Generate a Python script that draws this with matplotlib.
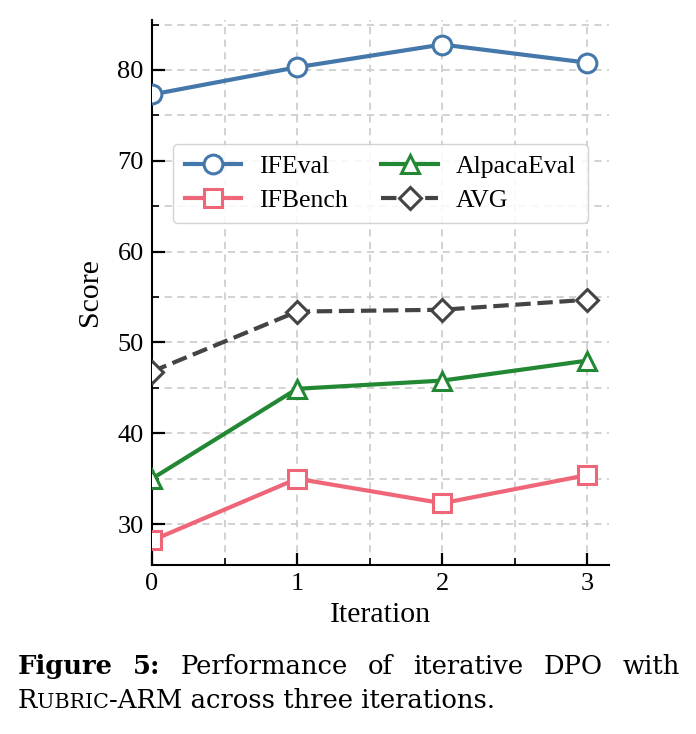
import matplotlib
matplotlib.use("Agg")
import matplotlib.pyplot as plt
from matplotlib.ticker import MultipleLocator

iterations = [0, 1, 2, 3]
ifeval = [77.3, 80.3, 82.8, 80.8]
ifbench = [28.2, 35.0, 32.3, 35.4]
alpacaeval = [35.0, 44.9, 45.8, 48.0]
avg = [46.8, 53.4, 53.6, 54.7]
series_names = ["IFEval", "IFBench", "AlpacaEval", "AVG"]

plt.rcParams['font.family'] = ['Liberation Serif', 'DejaVu Serif']
plt.rcParams['mathtext.fontset'] = 'stix'

fig = plt.figure(figsize=(6.96, 7.34), dpi=100)
W, H = 696, 734
ax = fig.add_axes([152 / W, 1 - 565 / H, (609 - 152) / W, (565 - 20) / H])

lw = 3.0
ms = 13.5
mew = 2.2
ax.plot(iterations, ifeval, color='#4477AA', lw=lw, marker='o', ms=ms,
        mfc='white', mew=mew, label=series_names[0], zorder=3)
ax.plot(iterations, ifbench, color='#EE6677', lw=lw, marker='s', ms=ms - 1.0,
        mfc='white', mew=mew, label=series_names[1], zorder=3)
ax.plot(iterations, alpacaeval, color='#228833', lw=lw, marker='^', ms=ms,
        mfc='white', mew=mew, label=series_names[2], zorder=3)
ax.plot(iterations, avg, color='#444444', lw=lw, ls='--', marker='D', ms=ms - 2.0,
        mfc='white', mew=mew, label=series_names[3], zorder=3)

ax.set_xlim(0, 3.15)
ax.set_ylim(25.5, 85.5)
ax.xaxis.set_major_locator(MultipleLocator(1))
ax.xaxis.set_minor_locator(MultipleLocator(0.5))
ax.yaxis.set_major_locator(MultipleLocator(10))
ax.yaxis.set_minor_locator(MultipleLocator(5))
ax.set_yticks([30, 40, 50, 60, 70, 80])

ax.grid(True, which='both', ls=(0, (4, 3)), color='#cfcfcf', lw=1.3, zorder=0)
ax.set_axisbelow(True)
for s in ['top', 'right']:
    ax.spines[s].set_visible(False)
for s in ['left', 'bottom']:
    ax.spines[s].set_linewidth(1.5)

ax.tick_params(which='major', direction='in', length=9, width=1.6, labelsize=19, pad=6)
ax.tick_params(which='minor', direction='in', length=5, width=1.2)
ax.tick_params(axis='x', which='both', top=False)
ax.tick_params(axis='y', which='both', right=False)

ax.set_xlabel('Iteration', fontsize=21.5, labelpad=5)
ax.set_ylabel('Score', fontsize=21.5, labelpad=10)

leg = ax.legend(ncol=2, loc='center', bbox_to_anchor=(0.5, 0.70), fontsize=18.5,
                frameon=True, fancybox=True, framealpha=0.85, edgecolor='#cccccc',
                handlelength=2.2, columnspacing=1.3, handletextpad=0.7,
                borderpad=0.45, labelspacing=0.4)

# Caption
fig.canvas.draw()
renderer = fig.canvas.get_renderer()

def text_width(t):
    return t.get_window_extent(renderer=renderer).width

cap_family = ['DejaVu Serif']
cap_size = 18.6
y1 = 1 - 674 / H
y2 = 1 - 708 / H
x_left, x_right = 18, 680
words = [("Figure", 'bold'), ("5:", 'bold'), ("Performance", 'normal'), ("of", 'normal'),
         ("iterative", 'normal'), ("DPO", 'normal'), ("with", 'normal')]
texts = []
for w, wt in words:
    t = fig.text(0, y1, w, fontsize=cap_size, fontweight=wt, family=cap_family,
                 ha='left', va='baseline')
    texts.append(t)
fig.canvas.draw()
widths = [text_width(t) for t in texts]
gap = (x_right - x_left - sum(widths)) / (len(words) - 1)
x = x_left
for t, w in zip(texts, widths):
    t.set_x(x / W)
    x += w + gap

pieces = [("R", cap_size), ("UBRIC", cap_size * 0.8), ("-ARM across three iterations.", cap_size)]
x = x_left
for s, fs in pieces:
    t = fig.text(x / W, y2, s, fontsize=fs, family=cap_family, ha='left', va='baseline')
    fig.canvas.draw()
    x += text_width(t)

fig.savefig('out.png', dpi=100)
